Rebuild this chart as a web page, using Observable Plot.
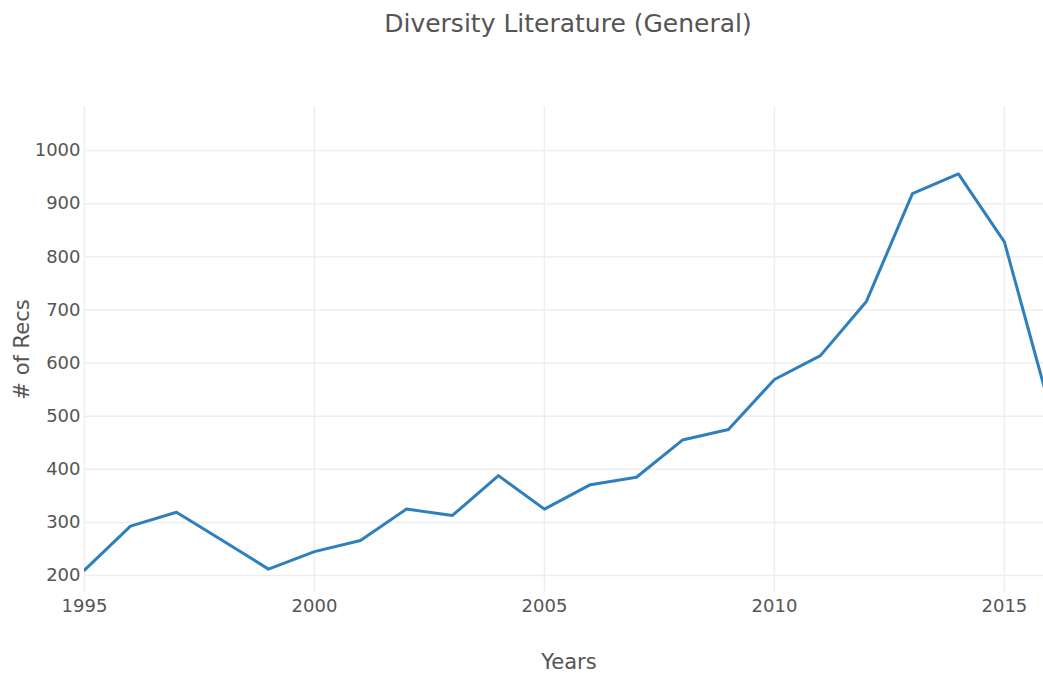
<!DOCTYPE html>
<html>
<head>
<meta charset="utf-8">
<script src="https://cdn.jsdelivr.net/npm/d3@7"></script>
<script src="https://cdn.jsdelivr.net/npm/@observablehq/plot@0.6"></script>
<style>
  html, body { margin: 0; padding: 0; background: #fff; overflow: hidden; }
  #wrap { position: relative; width: 1043px; height: 673px; font-family: "DejaVu Sans", Verdana, sans-serif; }
  #title { height: 60px; position: relative; }
  #title span { position: absolute; left: 568px; top: 9px; transform: translateX(-50%); white-space: nowrap; font-size: 25px; color: #555; }
</style>
</head>
<body>
<div id="wrap">
  <div id="title"><span>Diversity Literature (General)</span></div>
  <div id="chart"></div>
</div>
<script>
const years = [1995, 1996, 1997, 1998, 1999, 2000, 2001, 2002, 2003, 2004, 2005, 2006, 2007, 2008, 2009, 2010, 2011, 2012, 2013, 2014, 2015, 2016];
const recs  = [210, 293, 319, 266, 212, 245, 266, 325, 313, 388, 325, 371, 385, 455, 475, 569, 614, 716, 919, 956, 828, 512];
const xTicks = [1995, 2000, 2005, 2010, 2015];
const yTicks = [200, 300, 400, 500, 600, 700, 800, 900, 1000];
const xLabel = "Years";
const yLabel = "# of Recs";

const data = years.map((year, i) => ({year, recs: recs[i]}));

const chart = Plot.plot({
  width: 1043,
  height: 613,
  marginTop: 46,
  marginBottom: 81,
  marginLeft: 84,
  marginRight: 0,
  style: {fontFamily: "DejaVu Sans, Verdana, sans-serif", fontSize: "18px", color: "#555", background: "#fff"},
  x: {domain: [1995, 2015.85], ticks: xTicks, tickFormat: d => String(d), tickSize: 0, tickPadding: 7, label: null},
  y: {domain: [168, 1083], ticks: yTicks, tickFormat: d => String(d), tickSize: 0, tickPadding: 4, label: null},
  marks: [
    Plot.gridY(yTicks, {stroke: "#eee", strokeOpacity: 1, strokeWidth: 1.5}),
    Plot.gridX(xTicks, {stroke: "#eee", strokeOpacity: 1, strokeWidth: 1.5}),
    Plot.line(data, {x: "year", y: "recs", stroke: "#2e7fbd", strokeWidth: 3, clip: true}),
    Plot.text([xLabel], {frameAnchor: "bottom", textAnchor: "middle", dx: 5, dy: 76, text: d => d, fontSize: 21, fill: "#555"}),
    Plot.text([yLabel], {frameAnchor: "left", textAnchor: "middle", dx: -62, rotate: -90, text: d => d, fontSize: 21, fill: "#555"})
  ]
});
document.getElementById("chart").appendChild(chart);
</script>
</body>
</html>
